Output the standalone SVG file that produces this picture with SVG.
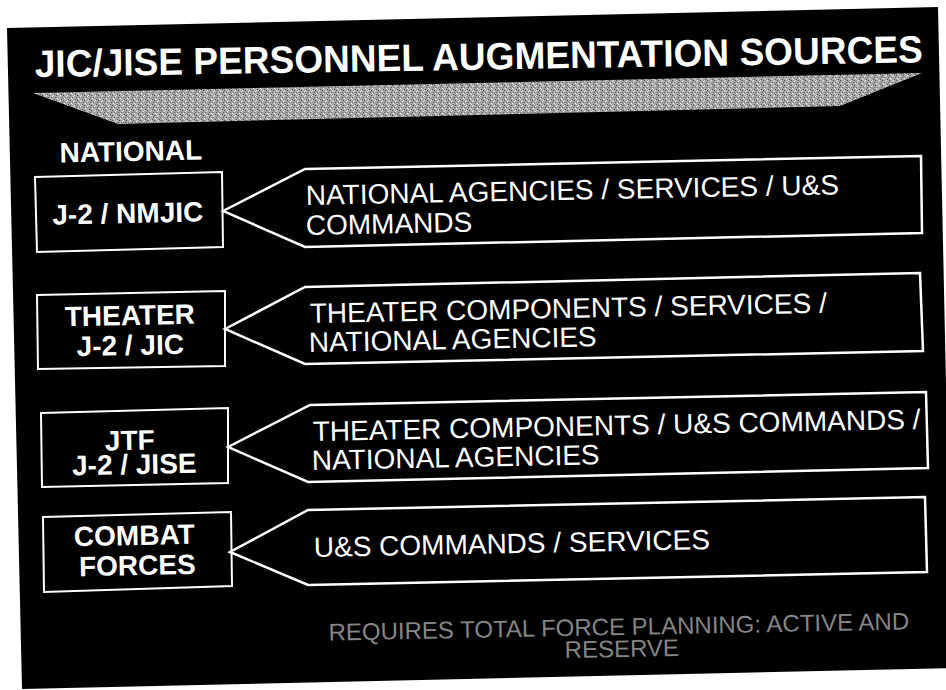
<svg xmlns="http://www.w3.org/2000/svg" width="946" height="690" viewBox="0 0 946 690">
<style>
  .bt { font-family: "Liberation Sans", Arial, Helvetica, sans-serif; font-weight: bold; fill: #ffffff; font-size: 28px; text-anchor: middle; }
  .at { font-family: "Liberation Sans", Arial, Helvetica, sans-serif; font-size: 28px; fill: #ffffff; }
  .box { fill: #000000; stroke: #ffffff; stroke-width: 2; }
  .arr { fill: #000000; stroke: #ffffff; stroke-width: 2.5; stroke-linejoin: miter; }
  .foot { font-family: "Liberation Sans", Arial, Helvetica, sans-serif; font-size: 24px; fill: #858585; text-anchor: middle; }
</style>
<defs>
  <pattern id="grain" width="7" height="5" patternUnits="userSpaceOnUse">
    <rect width="7" height="5" fill="#a4a4a4"/>
    <rect x="0" y="0" width="1" height="1" fill="#4a4a4a"/>
    <rect x="3" y="1" width="1" height="1" fill="#f0f0f0"/>
    <rect x="1" y="3" width="1" height="1" fill="#ffffff"/>
    <rect x="5" y="4" width="1" height="1" fill="#555555"/>
    <rect x="2" y="4" width="1" height="1" fill="#dddddd"/>
    <rect x="6" y="2" width="1" height="1" fill="#606060"/>
    <rect x="4" y="0" width="1" height="1" fill="#e8e8e8"/>
    <rect x="2" y="2" width="1" height="1" fill="#777777"/>
  </pattern>
</defs>

<rect x="0" y="0" width="946" height="690" fill="#ffffff"/>
<polygon id="slide" points="7,28 938,7 952,668 22,689" fill="#000000"/>

<g id="title">
  <text x="35" y="77" transform="rotate(-0.95 35 77)" font-family="'Liberation Sans', Arial, Helvetica, sans-serif" font-weight="bold" font-size="38" fill="#ffffff" textLength="888" lengthAdjust="spacingAndGlyphs">JIC/JISE PERSONNEL AUGMENTATION SOURCES</text>
</g>

<g id="title-band">
  <polygon points="33,93 922,73 840,106 118,124" fill="url(#grain)"/>
</g>

<g id="national-label">
  <text class="bt" x="131" y="161" font-size="25.5" transform="rotate(-1.2 131 161)">NATIONAL</text>
</g>

<g id="box-nmjic">
  <polygon class="box" points="35,177 222,172 223,247 37,252"/>
  <text class="bt" x="128" y="223" transform="rotate(-1.2 128 223)">J-2 / NMJIC</text>
</g>

<g id="box-theater">
  <polygon class="box" points="37,295 225,291 225,366 38,369"/>
  <text class="bt" x="130" y="325" transform="rotate(-1.2 130 325)">THEATER</text>
  <text class="bt" x="130.5" y="355" transform="rotate(-1.2 130.5 355)">J-2 / JIC</text>
</g>

<g id="box-jtf">
  <polygon class="box" points="41,413 228,408 228,483 42,487"/>
  <text class="bt" x="130" y="450" transform="rotate(-1.2 130 450)">JTF</text>
  <text class="bt" x="134.5" y="474" transform="rotate(-1.2 134.5 474)">J-2 / JISE</text>
</g>

<g id="box-combat">
  <polygon class="box" points="43,517 231,512 232,586 44,592"/>
  <text class="bt" x="134.5" y="545" transform="rotate(-1.2 134.5 545)">COMBAT</text>
  <text class="bt" x="137.5" y="575" transform="rotate(-1.2 137.5 575)">FORCES</text>
</g>

<g id="arrow-national">
  <polygon class="arr" points="223,211 305,169 921,156 922,233 305,247"/>
  <text class="at" x="306" y="205" transform="rotate(-1.15 306 205)">NATIONAL AGENCIES / SERVICES / U&amp;S</text>
  <text class="at" x="306" y="235" transform="rotate(-1.15 306 235)">COMMANDS</text>
</g>

<g id="arrow-theater">
  <polygon class="arr" points="225,329 305,287 920,273 923,351 305,364"/>
  <text class="at" x="310" y="323" transform="rotate(-1.15 310 323)">THEATER COMPONENTS / SERVICES /</text>
  <text class="at" x="309" y="352" transform="rotate(-1.15 309 352)">NATIONAL AGENCIES</text>
</g>

<g id="arrow-jtf">
  <polygon class="arr" points="228,447 310,405 926,392 928,468 308,482"/>
  <text class="at" x="313" y="441" transform="rotate(-1.15 313 441)">THEATER COMPONENTS / U&amp;S COMMANDS /</text>
  <text class="at" x="312" y="470" transform="rotate(-1.15 312 470)">NATIONAL AGENCIES</text>
</g>

<g id="arrow-combat">
  <polygon class="arr" points="230,552 308,510 925,497 927,572 308,585"/>
  <text class="at" x="314" y="557" transform="rotate(-1.15 314 557)">U&amp;S COMMANDS / SERVICES</text>
</g>

<g id="connectors"></g>

<g id="footer">
  <text class="foot" x="619" y="635" transform="rotate(-1.1 619 635)">REQUIRES TOTAL FORCE PLANNING: ACTIVE AND</text>
  <text class="foot" x="622" y="657" transform="rotate(-1.1 622 657)">RESERVE</text>
</g>
</svg>
